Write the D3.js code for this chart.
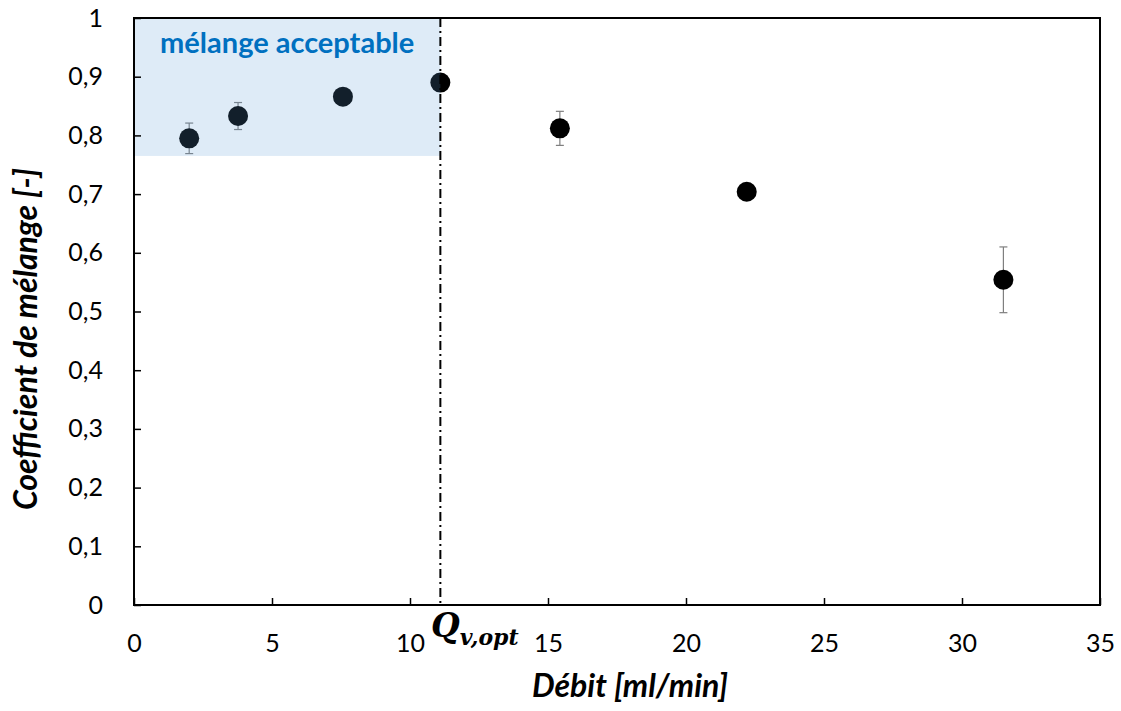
<!DOCTYPE html>
<html><head><meta charset="utf-8">
<script src="https://cdn.jsdelivr.net/npm/d3@7"></script>
<style>body{margin:0;background:#fff}</style>
</head><body>
<svg id="c" width="1121" height="711"></svg>
<script>
const debit = [2.0, 3.77, 7.57, 11.1, 15.43, 22.2, 31.5];
const coeff = [0.795, 0.833, 0.866, 0.890, 0.812, 0.704, 0.554];
const errBar = [0.026, 0.023, 0, 0, 0.029, 0, 0.056];
const xTicks = [0, 5, 10, 15, 20, 25, 30, 35];
const yTicks = [0, 0.1, 0.2, 0.3, 0.4, 0.5, 0.6, 0.7, 0.8, 0.9, 1];
const optDebit = [11.1];
const acceptable = [0.765, 1];

const svg = d3.select("#c");
const m = {l:134, r:1100, t:18, b:605};
const x = d3.scaleLinear().domain([0,35]).range([m.l, m.r]);
const y = d3.scaleLinear().domain([0,1]).range([m.b, m.t]);
const fmt = v => String(+v.toFixed(1)).replace(".", ",");

// points
const pts = svg.append("g");
debit.forEach((d,i)=>{
  if (errBar[i] > 0) {
    const g = pts.append("g").attr("stroke","#7f7f7f").attr("stroke-width",1.2);
    g.append("line").attr("x1",x(d)).attr("x2",x(d)).attr("y1",y(coeff[i]-errBar[i])).attr("y2",y(coeff[i]+errBar[i]));
    [coeff[i]-errBar[i], coeff[i]+errBar[i]].forEach(v=>{
      g.append("line").attr("x1",x(d)-4).attr("x2",x(d)+4).attr("y1",y(v)).attr("y2",y(v));
    });
  }
  pts.append("circle").attr("cx",x(d)).attr("cy",y(coeff[i])).attr("r",10).attr("fill","#000");
});

// acceptable zone (overlay)
svg.append("rect").attr("x",x(0)).attr("y",y(acceptable[1]))
  .attr("width",x(optDebit[0])-x(0)).attr("height",y(acceptable[0])-y(acceptable[1]))
  .attr("fill","rgb(91,155,213)").attr("fill-opacity",0.2);

// dash-dot line
svg.append("line").attr("x1",x(optDebit[0])).attr("x2",x(optDebit[0]))
  .attr("y1",y(1)).attr("y2",y(0)).attr("stroke","#000").attr("stroke-width",2)
  .attr("stroke-dasharray","9,4,2,4");

// axes
const xa = svg.append("g").attr("transform",`translate(0,${m.b})`)
  .call(d3.axisBottom(x).tickValues(xTicks).tickSize(-7).tickPadding(47).tickFormat(d=>d));
const ya = svg.append("g").attr("transform",`translate(${m.l},0)`)
  .call(d3.axisLeft(y).tickValues(yTicks).tickSize(-7).tickPadding(31).tickFormat(fmt));
[xa,ya].forEach(a=>{
  a.select(".domain").remove();
  a.selectAll(".tick line").attr("stroke","#000").attr("stroke-width",1.5);
  a.selectAll("text").attr("font-family","Lato, sans-serif").attr("font-size",25).attr("fill","#000");
});
xa.selectAll("text").attr("dy","0");
// frame
svg.append("rect").attr("x",m.l).attr("y",m.t).attr("width",m.r-m.l).attr("height",m.b-m.t)
  .attr("fill","none").attr("stroke","#000").attr("stroke-width",2);

// zone label
svg.append("text").attr("x",x(optDebit[0]/2)).attr("y",53).attr("text-anchor","middle")
  .attr("font-family","Lato, sans-serif").attr("font-weight","bold").attr("font-size",29)
  .attr("fill","#0070c0").text("mélange acceptable");

// Q label
const q = svg.append("text").attr("x",431).attr("y",637)
  .attr("font-family","'DejaVu Serif', serif").attr("font-weight","bold").attr("font-style","italic").attr("fill","#000");
q.append("tspan").attr("font-size",33).text("Q");
q.append("tspan").attr("font-size",22).attr("dy",8).text("v,opt");

// axis titles
svg.append("text").attr("x",630).attr("y",697).attr("text-anchor","middle")
  .attr("font-family","Lato, sans-serif").attr("font-weight","bold").attr("font-style","italic")
  .attr("font-size",32).attr("fill","#000").text("Débit [ml/min]");
svg.append("text").attr("transform","translate(37,339) rotate(-90)").attr("text-anchor","middle")
  .attr("font-family","Lato, sans-serif").attr("font-weight","bold").attr("font-style","italic")
  .attr("font-size",32).attr("fill","#000").attr("textLength",342).attr("lengthAdjust","spacing")
  .text("Coefficient de mélange [-]");
</script>
</body></html>
